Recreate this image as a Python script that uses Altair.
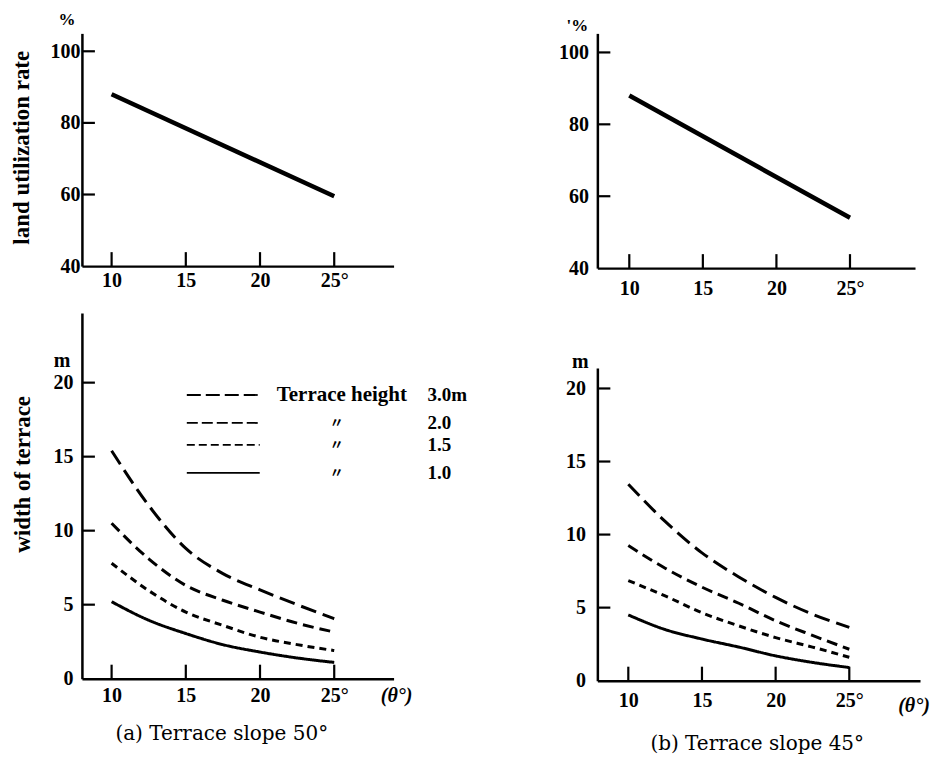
import altair as alt
import pandas as pd

FONT = "Liberation Serif"
CAP_FONT = "DejaVu Serif"

# ---- data ----
top_theta = [10, 25]
util_a = [88, 59.5]
util_b = [88, 54]

theta = [10, 12.5, 15, 17.5, 20, 22.5, 25]
heights = ["3.0m", "2.0", "1.5", "1.0"]

a_h30 = [15.4, 11.7, 8.8, 7.1, 6.0, 5.0, 4.05]
a_h20 = [10.5, 8.1, 6.3, 5.3, 4.5, 3.75, 3.15]
a_h15 = [7.8, 5.95, 4.5, 3.6, 2.8, 2.3, 1.9]
a_h10 = [5.2, 3.95, 3.05, 2.3, 1.8, 1.4, 1.1]

b_h30 = [13.45, 10.9, 8.75, 7.1, 5.7, 4.55, 3.65]
b_h20 = [9.25, 7.7, 6.4, 5.3, 4.1, 3.1, 2.15]
b_h15 = [6.85, 5.8, 4.65, 3.75, 2.95, 2.3, 1.6]
b_h10 = [4.5, 3.5, 2.85, 2.3, 1.7, 1.25, 0.9]

x_ticks = [10, 15, 20, 25]
util_ticks = [60, 80, 100]
util_labels = [40, 60, 80, 100]
width_ticks = [5, 10, 15, 20]
width_labels = [0, 5, 10, 15, 20]

legend_first = "Terrace height"
ditto = "〃"
caption_a = "(a) Terrace slope 50°"
caption_b = "(b) Terrace slope 45°"
theta_label = "(θ°)"

DASHES = [[16, 7], [11, 6], [7, 5], [1, 0]]
LEGEND_DASHES = [[14, 5], [11, 4], [8, 4], [1, 0]]

LABEL_EXPR = "datum.value == 25 ? '25°' : datum.label"


def curves_df(series):
    rows = []
    for h, vals in zip(heights, series):
        for t, v in zip(theta, vals):
            rows.append({"theta": t, "width": v, "h": h})
    return pd.DataFrame(rows)


def xtick_layer(xs, xa, h):
    return alt.Chart(pd.DataFrame({"v": x_ticks})).mark_rule(
        strokeWidth=2.2, color="black"
    ).encode(
        x=alt.X("v:Q", scale=xs, axis=xa),
        y=alt.value(h),
        y2=alt.value(h - 14),
    )


def ytick_layer(ys, ya, vals):
    return alt.Chart(pd.DataFrame({"v": vals})).mark_rule(
        strokeWidth=2.2, color="black"
    ).encode(
        y=alt.Y("v:Q", scale=ys, axis=ya),
        x=alt.value(0),
        x2=alt.value(13),
    )


def text_layer(txt, x, y, size=16, weight="bold", align="center", style="normal",
               font=FONT):
    return alt.Chart(pd.DataFrame({"t": [txt]})).mark_text(
        font=font, fontSize=size, fontWeight=weight, align=align,
        baseline="middle", color="black", fontStyle=style
    ).encode(text="t:N", x=alt.value(x), y=alt.value(y))


def x_axis(pad):
    return alt.Axis(values=x_ticks, labelExpr=LABEL_EXPR, title=None,
                    labelPadding=pad)


# ---------- top left ----------
W_TA, H_TA = 312, 233
xs_ta = alt.Scale(domain=[8, 29], nice=False, zero=False)
ys_ta = alt.Scale(domain=[40, 105], nice=False, zero=False)
xa_ta = x_axis(4)
ya_ta = alt.Axis(values=util_labels, title="land utilization rate", labelPadding=2,
                 titleX=-60, titleY=114, titleAngle=270, titleAlign="center",
                 titleBaseline="middle")
line_ta = alt.Chart(pd.DataFrame({"theta": top_theta, "rate": util_a})).mark_line(
    strokeWidth=4.5, color="black"
).encode(
    x=alt.X("theta:Q", scale=xs_ta, axis=xa_ta),
    y=alt.Y("rate:Q", scale=ys_ta, axis=ya_ta),
)
top_a = alt.layer(
    line_ta, xtick_layer(xs_ta, xa_ta, H_TA), ytick_layer(ys_ta, ya_ta, util_ticks),
    text_layer("%", -15, -13, size=17),
).properties(width=W_TA, height=H_TA)

# ---------- top right ----------
W_TB, H_TB = 318, 235
xs_tb = alt.Scale(domain=[7.83, 29.42], nice=False, zero=False)
ys_tb = alt.Scale(domain=[40, 105.3], nice=False, zero=False)
xa_tb = x_axis(10)
ya_tb = alt.Axis(values=util_labels, title=None, labelPadding=9)
line_tb = alt.Chart(pd.DataFrame({"theta": top_theta, "rate": util_b})).mark_line(
    strokeWidth=4.5, color="black"
).encode(
    x=alt.X("theta:Q", scale=xs_tb, axis=xa_tb),
    y=alt.Y("rate:Q", scale=ys_tb, axis=ya_tb),
)
top_b = alt.layer(
    line_tb, xtick_layer(xs_tb, xa_tb, H_TB), ytick_layer(ys_tb, ya_tb, util_ticks),
    text_layer("'%", -20, -7, size=17),
).properties(width=W_TB, height=H_TB)

# ---------- bottom left ----------
W_BA, H_BA = 312, 366
xs_ba = alt.Scale(domain=[8, 29], nice=False, zero=False)
ys_ba = alt.Scale(domain=[0, 24.7], nice=False, zero=False)
xa_ba = x_axis(7)
ya_ba = alt.Axis(values=width_labels, title="width of terrace", labelPadding=9,
                 titleX=-59, titleY=161, titleAngle=270, titleAlign="center",
                 titleBaseline="middle")
dash_scale = alt.Scale(domain=heights, range=DASHES)
curves_a = alt.Chart(curves_df([a_h30, a_h20, a_h15, a_h10])).mark_line(
    strokeWidth=3, color="black", interpolate="monotone"
).encode(
    x=alt.X("theta:Q", scale=xs_ba, axis=xa_ba),
    y=alt.Y("width:Q", scale=ys_ba, axis=ya_ba),
    strokeDash=alt.StrokeDash("h:N", scale=dash_scale, legend=None),
    detail="h:N",
)

legend_rows = [82, 110, 132, 160]
legend_layers = []
for i, (h, ly) in enumerate(zip(heights, legend_rows)):
    legend_layers.append(
        alt.Chart(pd.DataFrame({"h": [h]})).mark_rule(
            strokeWidth=1.8, color="black", strokeDash=LEGEND_DASHES[i]
        ).encode(x=alt.value(105), x2=alt.value(178), y=alt.value(ly))
    )
    if i == 0:
        legend_layers.append(text_layer(legend_first, 195, ly, size=21, align="left"))
    else:
        legend_layers.append(text_layer(ditto, 255, ly, size=14,
                                        font="Noto Sans CJK SC"))
    legend_layers.append(text_layer(h, 346, ly, size=19, align="left"))

bottom_a = alt.layer(
    curves_a, xtick_layer(xs_ba, xa_ba, H_BA), ytick_layer(ys_ba, ya_ba, width_ticks),
    *legend_layers,
    text_layer("m", -20, 48, size=20),
    text_layer(theta_label, 315, 383, size=20, style="italic"),
    text_layer(caption_a, 140, 421, size=20, weight="normal", font=CAP_FONT),
).properties(width=W_BA, height=H_BA)

# ---------- bottom right ----------
W_BB, H_BB = 323, 313
xs_bb = alt.Scale(domain=[7.9, 29.8], nice=False, zero=False)
ys_bb = alt.Scale(domain=[0, 21.4], nice=False, zero=False)
xa_bb = x_axis(10)
ya_bb = alt.Axis(values=width_labels, title=None, labelPadding=12)
curves_b = alt.Chart(curves_df([b_h30, b_h20, b_h15, b_h10])).mark_line(
    strokeWidth=3, color="black", interpolate="monotone"
).encode(
    x=alt.X("theta:Q", scale=xs_bb, axis=xa_bb),
    y=alt.Y("width:Q", scale=ys_bb, axis=ya_bb),
    strokeDash=alt.StrokeDash("h:N", scale=dash_scale, legend=None),
    detail="h:N",
)
bottom_b = alt.layer(
    curves_b, xtick_layer(xs_bb, xa_bb, H_BB), ytick_layer(ys_bb, ya_bb, width_ticks),
    text_layer("m", -17, -6, size=20),
    text_layer(theta_label, 317, 338, size=20, style="italic"),
    text_layer(caption_b, 160, 376, size=20, weight="normal", font=CAP_FONT),
).properties(width=W_BB, height=H_BB)

col_a = alt.vconcat(top_a, bottom_a, spacing=47, bounds="flush")
col_b = alt.vconcat(top_b, bottom_b, spacing=100, bounds="flush")

chart = alt.hconcat(col_a, col_b, spacing=91).properties(
    padding={"left": 3, "top": 3, "right": 5, "bottom": 5}
).configure_view(stroke=None).configure_axis(
    domainColor="black", domainWidth=2.5, ticks=False, grid=False,
    labelFont=FONT, labelFontWeight="bold", labelFontSize=20, labelColor="black",
    titleFont=FONT, titleFontWeight="bold", titleFontSize=23, titleColor="black",
)

chart.save("out.html", embed_options={"renderer": "svg", "actions": False})
